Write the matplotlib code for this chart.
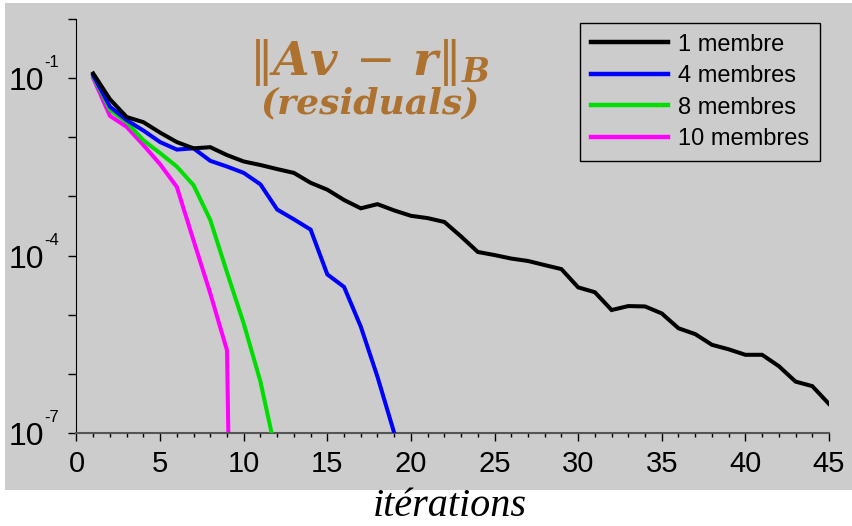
import numpy as np
import matplotlib
matplotlib.use('Agg')
import matplotlib.pyplot as plt
from matplotlib.patches import Rectangle
from matplotlib.ticker import MultipleLocator, FixedLocator, NullFormatter
from matplotlib.transforms import offset_copy

plt.rcParams['font.family'] = ['Liberation Sans', 'DejaVu Sans']
plt.rcParams['mathtext.fontset'] = 'custom'
plt.rcParams['mathtext.rm'] = 'DejaVu Serif'
plt.rcParams['mathtext.it'] = 'DejaVu Serif:italic:bold'
plt.rcParams['mathtext.bf'] = 'DejaVu Serif:italic:bold'

# residual norms per iteration
iter_1 = np.arange(1, 46)
res_1 = [1.2e-1, 4.4e-2, 2.2e-2, 1.8e-2, 1.2e-2, 8.3e-3, 6.5e-3, 6.8e-3, 5.0e-3, 3.9e-3,
         3.4e-3, 2.9e-3, 2.5e-3, 1.7e-3, 1.3e-3, 8.7e-4, 6.3e-4, 7.4e-4, 5.8e-4, 4.7e-4,
         4.3e-4, 3.7e-4, 2.1e-4, 1.15e-4, 1.02e-4, 8.9e-5, 8.1e-5, 6.9e-5, 5.9e-5, 2.9e-5,
         2.4e-5, 1.2e-5, 1.4e-5, 1.38e-5, 1.05e-5, 5.9e-6, 4.7e-6, 3.1e-6, 2.6e-6, 2.1e-6,
         2.1e-6, 1.35e-6, 7.4e-7, 6.2e-7, 3.1e-7]

iter_4 = np.arange(1, 20)
res_4 = [1.12e-1, 3.3e-2, 1.95e-2, 1.3e-2, 8.3e-3, 6.2e-3, 6.5e-3, 4.0e-3, 3.2e-3, 2.5e-3,
         1.6e-3, 6.0e-4, 4.1e-4, 2.75e-4, 4.8e-5, 2.95e-5, 6.3e-6, 8.9e-7, 1.0e-7]

iter_8 = np.arange(1, 13)
res_8 = [1.07e-1, 2.9e-2, 1.8e-2, 8.9e-3, 5.4e-3, 3.2e-3, 1.55e-3, 4.0e-4, 5.2e-5, 7.1e-6,
         7.4e-7, 3.7e-8]

iter_10 = np.arange(1, 11)
res_10 = [1.0e-1, 2.3e-2, 1.5e-2, 7.4e-3, 3.5e-3, 1.45e-3, 1.8e-4, 2.3e-5, 2.5e-6, 1e-23]

labels = ['1 membre', '4 membres', '8 membres', '10 membres']
colors = ['black', '#0000ff', '#00dd00', '#ff00ff']

# decades that carry a label on the y axis
ylab_exp = [-1, -4, -7]

bg = '#cccccc'
fig = plt.figure(figsize=(8.53, 5.26), dpi=100)
fig.patch.set_facecolor('white')
fig.patches.append(Rectangle((5 / 853, 36 / 526), 1, 487 / 526, transform=fig.transFigure,
                             facecolor=bg, edgecolor='none', zorder=-10))

ax = fig.add_axes([76.5 / 853, 93 / 526, 752.5 / 853, 414 / 526])
ax.set_facecolor(bg)

lines = []
for i, (x, y) in enumerate([(iter_1, res_1), (iter_4, res_4), (iter_8, res_8), (iter_10, res_10)]):
    l, = ax.plot(x, y, color=colors[i], lw=2.9, label=labels[i], zorder=5 - i,
                 solid_joinstyle='miter')
    lines.append(l)

ax.set_yscale('log')
ax.set_xlim(0, 45)
ax.set_ylim(1e-7, 1e0)

for s in ['top', 'right']:
    ax.spines[s].set_visible(False)
ax.spines['left'].set_color('black')
ax.spines['bottom'].set_color('#555555')
ax.spines['bottom'].set_linewidth(1.5)

ax.xaxis.set_major_locator(MultipleLocator(5))
ax.xaxis.set_minor_locator(MultipleLocator(1))
ax.tick_params(axis='x', which='major', length=6, width=1, color='black', pad=6, labelsize=21)
ax.tick_params(axis='x', which='minor', length=3, width=1, color='black')

ax.yaxis.set_major_locator(FixedLocator([10.0 ** k for k in range(-7, 1)]))
ax.yaxis.set_major_formatter(NullFormatter())
ax.yaxis.set_minor_locator(FixedLocator([]))
ax.tick_params(axis='y', which='major', length=6, width=1, color='black')

# y labels drawn as "10" plus a raised "-k", like the original
ytr = ax.get_yaxis_transform()
for e in ylab_exp:
    ax.text(0, 10.0 ** e, '10', fontsize=23, ha='right', va='center',
            transform=offset_copy(ytr, fig=fig, x=-23, y=-3, units='points'))
    ax.text(0, 10.0 ** e, '-%d' % -e, fontsize=12, ha='left', va='center',
            transform=offset_copy(ytr, fig=fig, x=-23, y=11, units='points'))

ax.text(0.39, 0.895, r'$\Vert Av\,-\,r\Vert_B$', transform=ax.transAxes, ha='center',
        va='center', fontsize=34, color='#ae7230')
ax.text(0.39, 0.797, '(residuals)', transform=ax.transAxes, ha='center', va='center',
        fontsize=26, color='#ae7230', family='DejaVu Serif', style='italic', weight='bold')

leg = ax.legend(handles=lines, loc='upper right', bbox_to_anchor=(820 / 853, 503 / 526),
                bbox_transform=fig.transFigure, fontsize=17, frameon=True, fancybox=False,
                handlelength=3.25, handletextpad=0.45, borderpad=0.45, labelspacing=0.4,
                borderaxespad=0, edgecolor='black', facecolor=bg, framealpha=1)
leg.get_frame().set_linewidth(1.0)
for h in leg.get_lines():
    h.set_linewidth(3.2)

fig.text(450 / 853, 1 - 506 / 526, 'itérations', ha='center', va='center', fontsize=29,
         family='Liberation Serif', style='italic')

fig.savefig('out.png', dpi=100)
